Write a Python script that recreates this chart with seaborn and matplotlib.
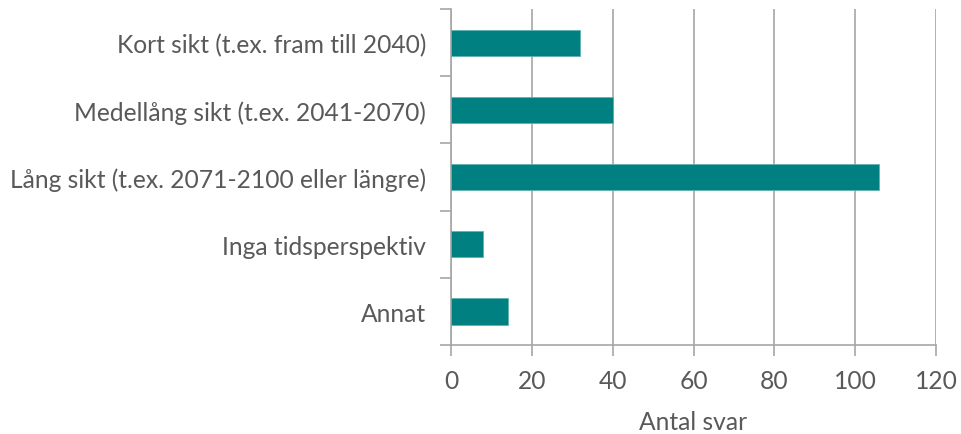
import numpy as np
import pandas as pd
import seaborn as sns
import matplotlib.pyplot as plt

categories = [
    "Kort sikt (t.ex. fram till 2040)",
    "Medellång sikt (t.ex. 2041-2070)",
    "Lång sikt (t.ex. 2071-2100 eller längre)",
    "Inga tidsperspektiv",
    "Annat",
]
values = [32, 40, 106, 8, 14]
x_ticks = [0, 20, 40, 60, 80, 100, 120]

df = pd.DataFrame({"kategori": categories, "antal": values})

sns.set_style("white")
plt.rcParams['font.family'] = ['Lato', 'DejaVu Sans']

text_col = '#595959'
grid_col = '#a6a6a6'
fs = 17.7

fig = plt.figure(figsize=(9.62, 4.35), dpi=100)
ax = fig.add_axes([0.4688, 0.2046, 0.5042, 0.7724])

sns.barplot(data=df, x="antal", y="kategori", orient="h", color="#008080",
            saturation=1, width=0.39, edgecolor="#5fb3b3", linewidth=0.6, ax=ax, zorder=3)

ax.set_xlim(0, 120)
ax.set_ylim(len(categories) - 0.5, -0.5)
ax.set_xticks(x_ticks)
ax.set_xticklabels([str(t) for t in x_ticks], fontsize=fs, color=text_col)
ax.xaxis.grid(True, color=grid_col, linewidth=1.2, zorder=0)
ax.set_axisbelow(True)

# category boundaries as major ticks, labels as minor ticks
ax.set_yticks(np.arange(-0.5, len(categories)))
ax.set_yticklabels([])
ax.set_yticks(np.arange(len(categories)), minor=True)
ax.set_yticklabels(categories, minor=True, fontsize=fs, color=text_col)
ax.tick_params(axis='y', which='major', length=8, width=1.2, color=grid_col, left=True)
ax.tick_params(axis='y', which='minor', length=0, pad=18)
ax.tick_params(axis='x', length=8, width=1.2, color=grid_col, bottom=True, pad=9)

for s in ['top', 'right']:
    ax.spines[s].set_visible(False)
for s in ['left', 'bottom']:
    ax.spines[s].set_color(grid_col)
    ax.spines[s].set_linewidth(1.2)

ax.set_ylabel("")
ax.set_xlabel("Antal svar", fontsize=fs, color=text_col, va='center')
ax.xaxis.set_label_coords(0.5, -0.229)

fig.savefig("out.png", dpi=100)
